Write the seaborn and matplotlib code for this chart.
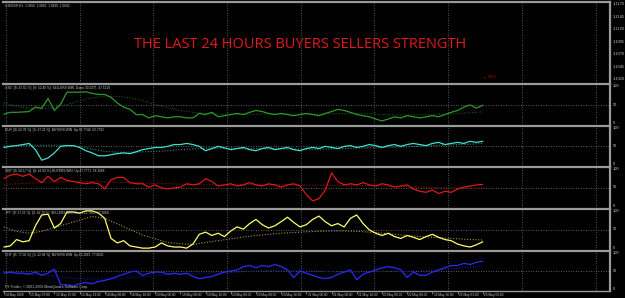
import numpy as np
import pandas as pd
import matplotlib
matplotlib.use("Agg")
import matplotlib.pyplot as plt
import seaborn as sns

# ---------------- data ----------------
bars = list(range(0, 153, 2))      # hourly bars, every 2nd bar
ma_bars = list(range(0, 153, 4))   # moving averages, every 4th bar

usd = [24,29,29,30,31,43,40,66,34,51, 83,83,83,84,80,77,77,69,54,43,
       37,23,23,14,20,17,14,17,17,14, 14,26,23,29,17,20,23,26,23,29,
       34,31,26,23,26,23,20,23,26,23, 20,26,31,37,34,29,23,20,17,11,
       6,11,17,14,20,17,14,17,20,17, 23,29,34,43,49,40,48]
usd_ma = [54,45,40,38,42,50,60,68,72,72,68,60,50,42,34,29,26,24,24,23,24,25,24,24,25,24,25,26,26,25,23,22,22,22,23,24,26,28,30]
eur = [46,49,51,54,57,40,11,17,31,49, 51,51,46,37,31,23,23,26,29,31,
       29,34,40,43,46,46,49,54,54,57, 54,49,37,43,49,45,40,43,46,40,
       37,43,46,40,43,46,40,37,43,46, 43,49,46,43,49,51,46,49,54,51,
       46,51,54,49,54,57,54,51,57,60, 54,57,60,57,63,60,63]
eur_ma = [50,51,52,52,52,52,48,42,35,33,33,34,35,37,40,42,44,44,44,43,43,42,42,42,41,41,42,43,44,45,46,47,48,50,51,53,54,55,57]
gbp = [74,83,86,80,86,74,63,80,66,77, 69,66,63,60,63,60,46,71,77,77,
       63,60,60,51,57,49,46,49,51,60, 57,60,74,66,54,57,60,54,57,63,
       57,54,60,57,51,57,60,54,31,14, 20,43,89,66,57,60,57,63,57,54,
       60,57,51,54,57,46,40,37,43,34, 40,37,46,51,54,57,58]
gbp_ma = [58,60,62,64,65,66,66,66,65,64,63,62,61,60,59,58,57,57,57,58,58,58,57,57,56,56,56,55,55,55,54,53,52,51,50,49,48,48,48]
jpy = [3,6,23,17,20,60,89,91,54,66, 97,97,94,100,100,94,80,26,14,20,
       6,3,0,0,3,14,6,3,3,0, 11,37,43,34,40,31,46,57,51,66,
       77,63,54,60,71,83,69,57,63,77, 86,71,60,66,57,80,89,66,49,40,
       34,40,31,26,34,29,23,31,37,29, 23,20,11,6,3,9,17]
jpy_ma = [57,45,40,45,55,65,75,85,80,65,50,35,25,15,12,10,15,20,25,30,34,37,40,42,44,45,46,46,45,43,40,37,34,31,29,27,25,23,22]
chf = [44,47,44,44,41,47,38,44,55,12, 12,9,15,18,15,21,24,29,35,41,
       47,50,38,44,47,47,41,44,41,44, 35,29,32,35,41,47,50,53,62,65,
       59,65,62,68,62,53,32,50,44,38, 32,29,32,41,47,53,26,41,47,53,
       59,62,59,53,32,47,38,38,47,53, 59,65,65,71,68,74,77]
chf_ma = [45,44,42,40,36,32,29,28,28,29,31,34,37,40,42,43,44,45,46,48,50,51,52,51,50,49,48,48,47,47,48,49,49,50,52,55,58,60,62]

headers = [
    "USD  [B: 47.51 %]  [S: 52.49 %]  SELLERS WIN  Down 30.2375  47.5119",
    "EUR  [B: 62.78 %]  [S: 37.22 %]  BUYERS WIN  Up 56.7744  62.7792",
    "GBP  [B: 58.17 %]  [S: 41.83 %]  BUYERS WIN  Up 47.7771  58.1668",
    "JPY  [B: 17.21 %]  [S: 82.79 %]  SELLERS WIN  Down 21.7061  17.2068",
    "CHF  [B: 77.06 %]  [S: 22.94 %]  BUYERS WIN  Up 62.2062  77.0602",
]
series = [usd, eur, gbp, jpy, chf]
mas = [usd_ma, eur_ma, gbp_ma, jpy_ma, chf_ma]
line_colors = ["#2a9a2a", "#40e0d0", "#e01818", "#ffff66", "#2a2aff"]
ma_colors = ["#1c5a1c", "#2a8a80", "#8a1010", "#9a9a40", "#1a1a8a"]

time_labels = ["14 May 2009", "15 May 07:00", "15 May 15:00", "15 May 23:00",
               "18 May 08:00", "18 May 16:00", "19 May 00:00", "19 May 08:00",
               "19 May 16:00", "20 May 00:00", "20 May 08:00", "20 May 16:00",
               "21 May 00:00", "21 May 08:00", "21 May 16:00", "22 May 00:00",
               "22 May 08:00", "22 May 16:00", "25 May 01:00", "25 May 09:00"]
label_bars = list(range(0, 153, 8))

price_labels = ["1.1170", "1.1145", "1.1120", "1.1095", "1.1070", "1.1045", "1.1020"]
price_values = [1.1170, 1.1145, 1.1120, 1.1095, 1.1070, 1.1045, 1.1020]

title = "THE LAST 24 HOURS BUYERS SELLERS STRENGTH"

# ---------------- style ----------------
sns.set_style("dark")
plt.rcParams["font.family"] = ["Liberation Sans", "DejaVu Sans"]
W, H = 625, 298
fig = plt.figure(figsize=(W / 100, H / 100), dpi=100, facecolor="black")

GRAY = "#9a9a9a"
TXT = "#c8c8c8"
XL, XR = 3, 610
xmin, xmax = -0.3, 192.4
grid_x = np.arange(0.6, 193, 23.4)


def add_axes(top, bottom):
    return fig.add_axes([XL / W, 1 - bottom / H, (XR - XL) / W, (bottom - top) / H])


def style(ax):
    ax.set_facecolor("black")
    ax.set_xlim(xmin, xmax)
    for s in ["left", "bottom"]:
        ax.spines[s].set_visible(False)
    for s in ["top", "right"]:
        ax.spines[s].set_color(GRAY)
        ax.spines[s].set_linewidth(1.6)
    ax.set_xticks([])
    ax.set_yticks([])
    ax.grid(False)
    for gx in grid_x:
        ax.axvline(gx, color="#707070", lw=0.6, ls=(0, (1, 2)), zorder=0)
    ax.set_xlabel("")
    ax.set_ylabel("")


# main panel
axm = add_axes(2, 83)
style(axm)
axm.set_ylim(1.1012, 1.1175)
axm.text(0.003, 0.985, "USDCHF,H1  1.0856  1.0862  1.0839  1.0842", transform=axm.transAxes,
         color=TXT, fontsize=2.3, va="top", ha="left")
axm.text(0.49, 0.47, title, transform=axm.transAxes, color="#e01a1a", fontsize=10.5,
         family=["Open Sans", "DejaVu Sans"], ha="center", va="center")
for lab, val in zip(price_labels, price_values):
    axm.text(1.004, val, lab, transform=axm.get_yaxis_transform(), color=TXT,
             fontsize=2.8, va="center", ha="left", clip_on=False)
axm.text(0.79, 0.07, "\u2190 30.0", transform=axm.transAxes, color="#b01010", fontsize=2.8,
         ha="left", va="center")

tops = [84, 126, 167, 209, 251]
bots = [125, 166, 208, 250, 291]
for i in range(5):
    ax = add_axes(tops[i], bots[i])
    style(ax)
    df = pd.DataFrame({"bar": bars, "val": series[i]})
    dfm = pd.DataFrame({"bar": ma_bars, "ma": mas[i]})
    sns.lineplot(data=dfm, x="bar", y="ma", ax=ax, color=ma_colors[i], lw=0.8,
                 linestyle=(0, (1, 1.5)))
    sns.lineplot(data=df, x="bar", y="val", ax=ax, color=line_colors[i], lw=0.9)
    ax.set_ylim(-5, 105)
    ax.set_xlim(xmin, xmax)
    ax.set_xticks([]); ax.set_yticks([])
    ax.set_xlabel(""); ax.set_ylabel("")
    ax.axhline(50, color="#808080", lw=0.6, ls=(0, (1, 2)), zorder=0)
    ax.text(0.003, 0.96, headers[i], transform=ax.transAxes, color=TXT, fontsize=2.3,
            va="top", ha="left")
    tr = ax.get_yaxis_transform()
    ax.text(1.005, 0.99, "100", transform=ax.transAxes, color=TXT, fontsize=2.9,
            va="top", ha="left", clip_on=False)
    ax.text(1.005, 50, "50", transform=tr, color=TXT, fontsize=2.9, va="center",
            ha="left", clip_on=False)
    ax.text(1.005, 0.01, "0", transform=ax.transAxes, color=TXT, fontsize=2.9,
            va="bottom", ha="left", clip_on=False)
    if i == 4:
        ax.spines["bottom"].set_visible(True)
        ax.spines["bottom"].set_color(GRAY)
        ax.spines["bottom"].set_linewidth(1.0)
        ax.text(0.003, 0.06, "FX Trader, \u00a9 2001-2008 MetaQuotes Software Corp.",
                transform=ax.transAxes, color=TXT, fontsize=2.5, va="bottom", ha="left")
        for b, lab in zip(label_bars, time_labels):
            ax.plot([b, b], [-0.0, -0.08], transform=ax.get_xaxis_transform(),
                    color=GRAY, lw=0.5, clip_on=False)
            ax.text(b + 0.4, -0.05, lab, transform=ax.get_xaxis_transform(), color=TXT,
                    fontsize=2.3, va="top", ha="left", clip_on=False)

fig.savefig("out.png", dpi=100, facecolor="black")
